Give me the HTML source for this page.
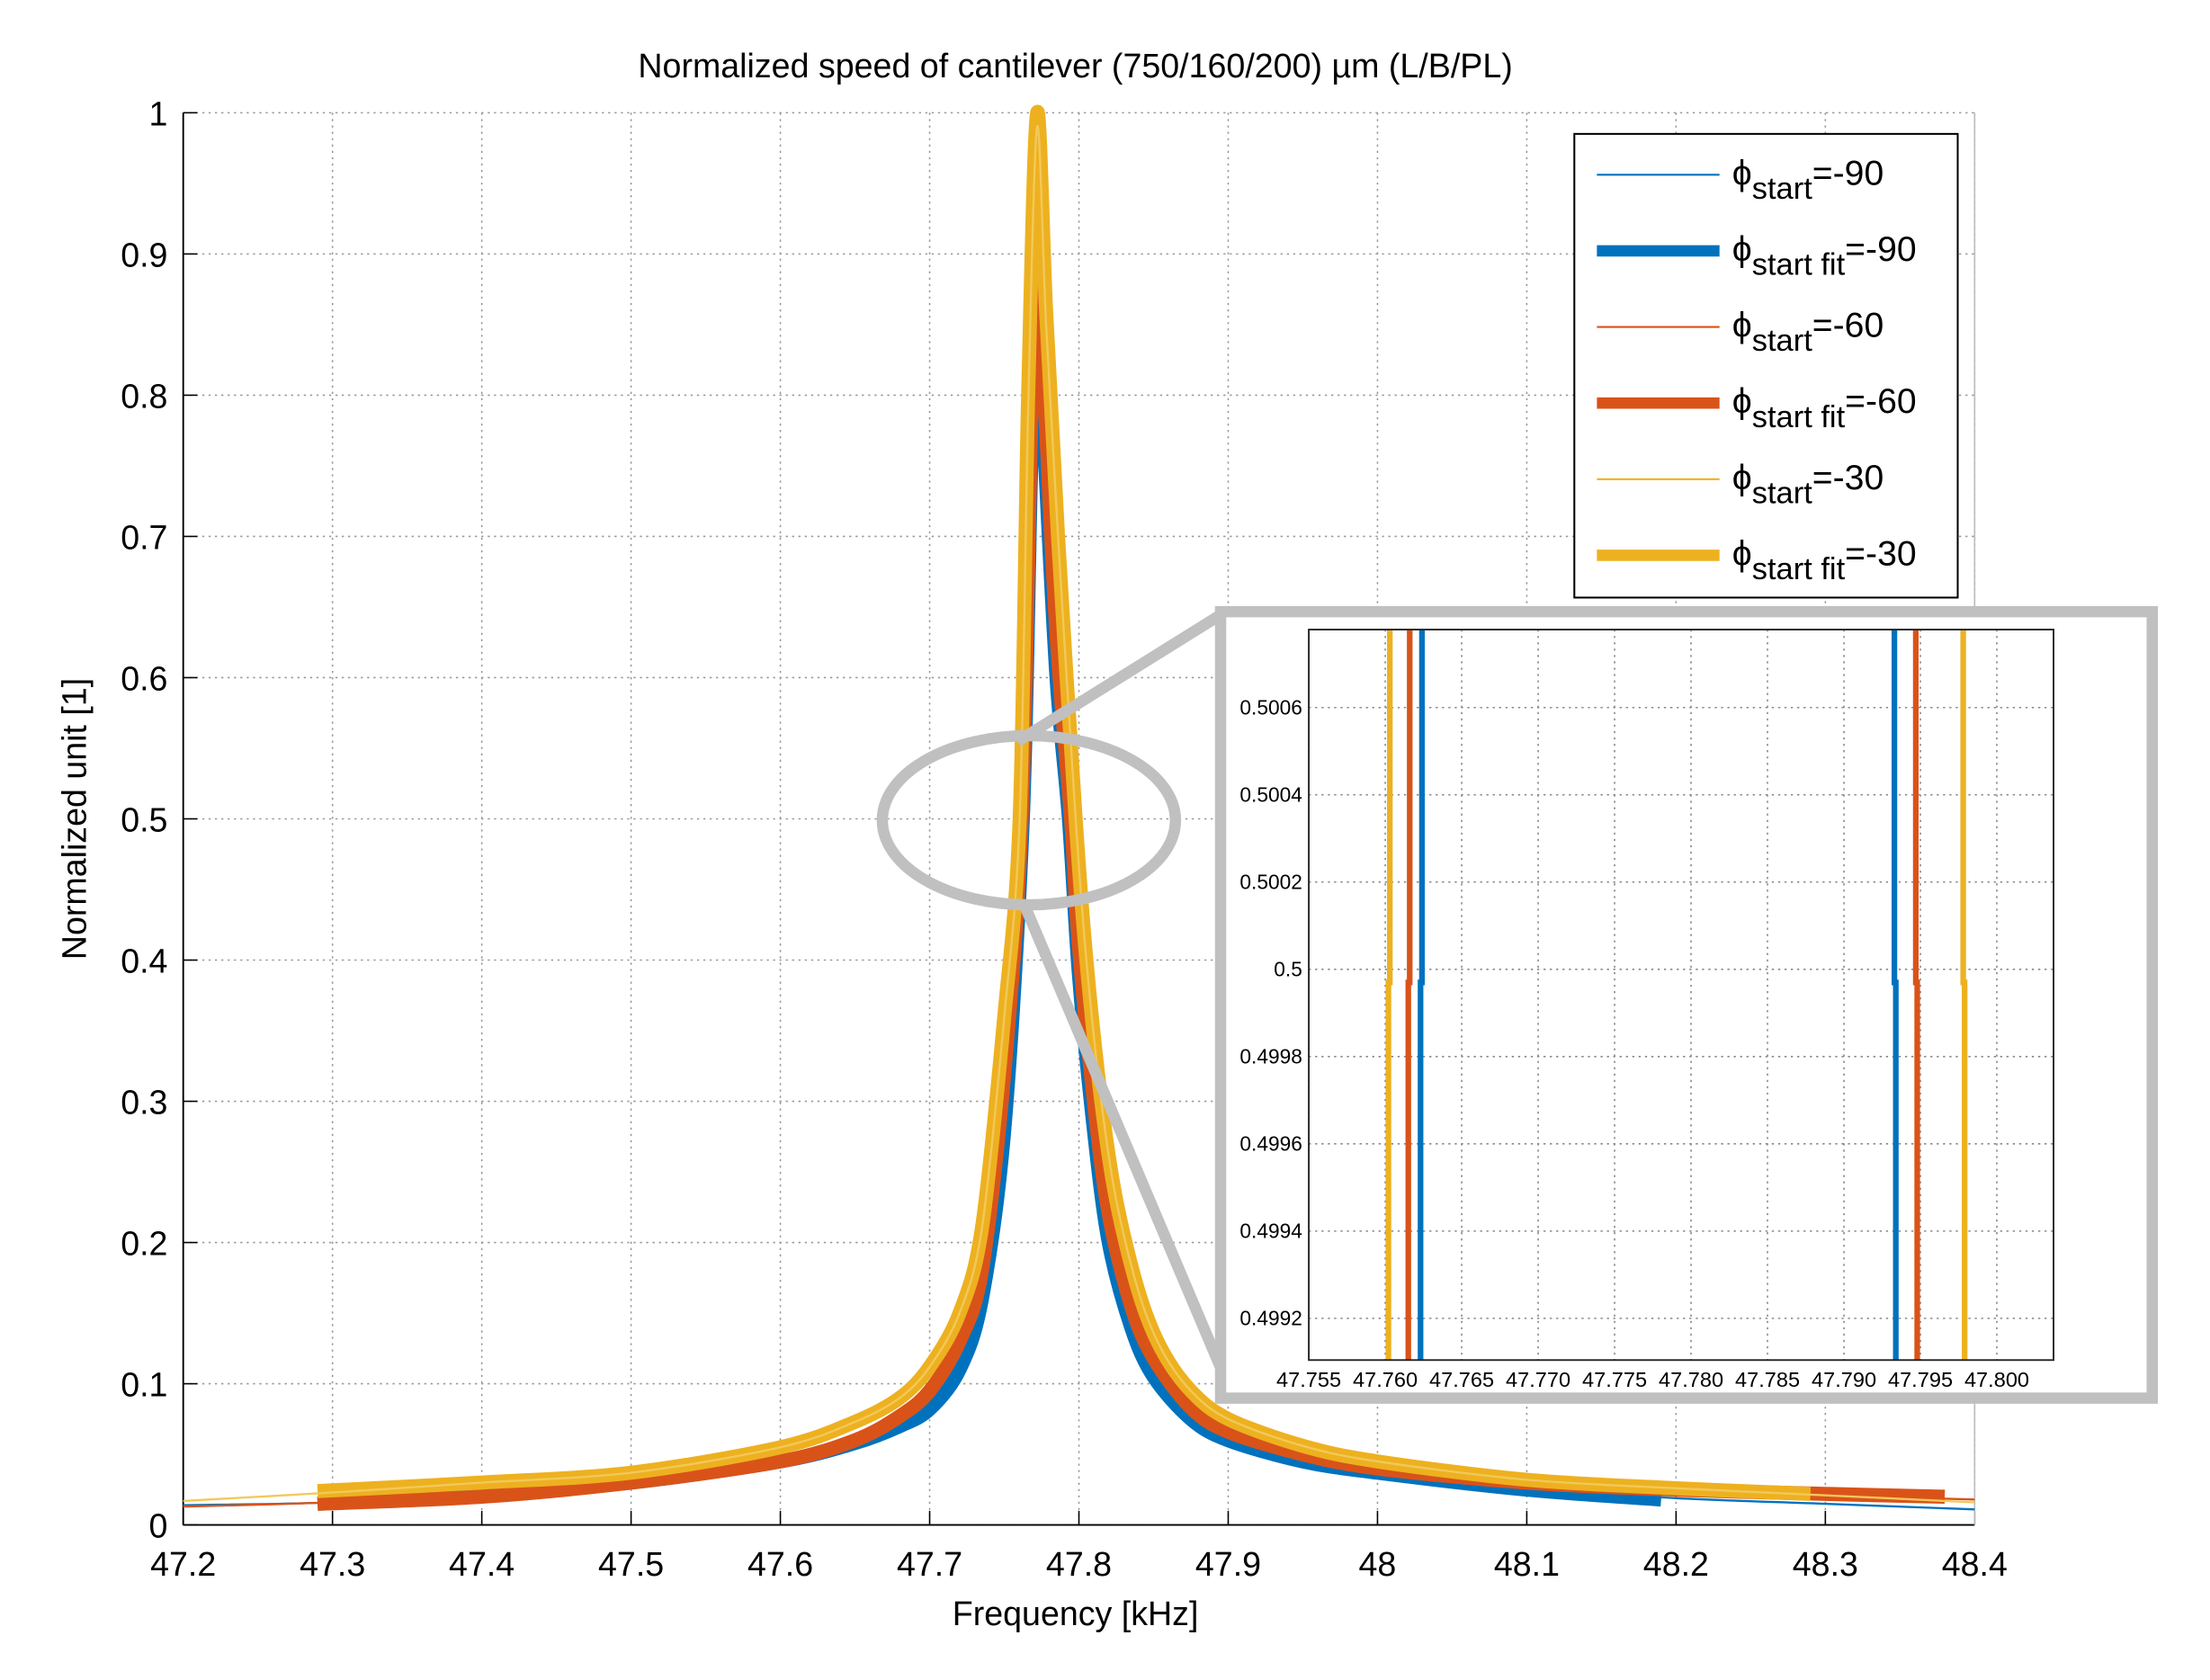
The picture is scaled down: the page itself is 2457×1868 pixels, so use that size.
<!DOCTYPE html>
<html><head><meta charset="utf-8"><style>
html,body{margin:0;padding:0;background:#fff}
svg{display:block}
text{font-family:"Liberation Sans",Arial,sans-serif;fill:#000}
</style></head><body>
<svg id="chart" width="2457" height="1868" viewBox="0 0 1568 1192" preserveAspectRatio="none" xmlns="http://www.w3.org/2000/svg">
<g id="main"></g>
<g id="inset"></g>
</svg>
<script>
// ---- main chart data ----
const xTicks = [47.2,47.3,47.4,47.5,47.6,47.7,47.8,47.9,48.0,48.1,48.2,48.3,48.4];
const xTickLabels = ["47.2","47.3","47.4","47.5","47.6","47.7","47.8","47.9","48","48.1","48.2","48.3","48.4"];
const yTicks = [0,0.1,0.2,0.3,0.4,0.5,0.6,0.7,0.8,0.9,1];
const yTickLabels = ["0","0.1","0.2","0.3","0.4","0.5","0.6","0.7","0.8","0.9","1"];

const blueFitF = [47.29,47.4,47.5,47.6,47.65,47.68,47.7,47.72,47.735,47.75,47.7624,47.768,47.772,47.777,47.785,47.7933,47.8,47.81,47.82,47.835,47.85,47.875,47.9,47.95,48.0,48.1,48.19];
const blueFitV = [0.015,0.021,0.03,0.045,0.058,0.07,0.082,0.11,0.16,0.28,0.5,0.75,0.87,0.76,0.6,0.5,0.39,0.28,0.2,0.14,0.105,0.075,0.06,0.045,0.037,0.025,0.018];
const redFitF = [47.29,47.4,47.5,47.6,47.65,47.68,47.7,47.72,47.735,47.75,47.7616,47.768,47.772,47.777,47.785,47.7947,47.8,47.81,47.82,47.835,47.85,47.875,47.9,47.95,48.0,48.1,48.2,48.3,48.38];
const redFitV = [0.015,0.02,0.03,0.045,0.06,0.077,0.095,0.13,0.18,0.32,0.5,0.78,0.92,0.8,0.63,0.5,0.41,0.3,0.22,0.155,0.118,0.083,0.066,0.05,0.04,0.03,0.025,0.022,0.02];
const yelFitF = [47.29,47.4,47.5,47.6,47.65,47.68,47.7,47.72,47.735,47.75,47.7603,47.766,47.772,47.778,47.786,47.7978,47.805,47.815,47.825,47.84,47.855,47.875,47.9,47.95,48.0,48.1,48.2,48.29];
const yelFitV = [0.024,0.03,0.037,0.055,0.073,0.09,0.112,0.15,0.21,0.36,0.5,0.8,1.0,0.86,0.7,0.5,0.4,0.3,0.23,0.165,0.125,0.095,0.075,0.056,0.045,0.032,0.026,0.022];

const blueDatF = [47.2,47.3,47.4,47.5,47.6,47.65,47.68,47.7,47.72,47.735,47.75,47.7624,47.768,47.772,47.777,47.785,47.7933,47.8,47.81,47.82,47.835,47.85,47.875,47.9,47.95,48.0,48.1,48.2,48.3,48.4];
const blueDatV = [0.014,0.016,0.022,0.031,0.047,0.06,0.072,0.085,0.113,0.165,0.29,0.5,0.74,0.86,0.75,0.6,0.5,0.39,0.285,0.205,0.145,0.108,0.077,0.062,0.047,0.038,0.026,0.019,0.015,0.011];
const redDatF = [47.2,47.3,47.4,47.5,47.6,47.65,47.68,47.7,47.72,47.735,47.75,47.7616,47.768,47.772,47.777,47.785,47.7947,47.8,47.81,47.82,47.835,47.85,47.875,47.9,47.95,48.0,48.1,48.2,48.3,48.4];
const redDatV = [0.013,0.016,0.021,0.031,0.046,0.062,0.078,0.097,0.132,0.185,0.33,0.5,0.77,0.91,0.79,0.63,0.5,0.41,0.3,0.22,0.157,0.12,0.085,0.067,0.05,0.04,0.03,0.025,0.021,0.018];
const yelDatF = [47.2,47.3,47.4,47.5,47.6,47.65,47.68,47.7,47.72,47.735,47.75,47.7603,47.766,47.772,47.778,47.786,47.7978,47.805,47.815,47.825,47.84,47.855,47.875,47.9,47.95,48.0,48.1,48.2,48.3,48.4];
const yelDatV = [0.017,0.023,0.03,0.037,0.055,0.073,0.09,0.112,0.15,0.21,0.36,0.5,0.79,0.99,0.85,0.7,0.5,0.4,0.3,0.23,0.165,0.125,0.095,0.075,0.056,0.045,0.032,0.026,0.021,0.016];

// ---- inset data ----
const insetXTicks = [47.755,47.760,47.765,47.770,47.775,47.780,47.785,47.790,47.795,47.800];
const insetXLabels = ["47.755","47.760","47.765","47.770","47.775","47.780","47.785","47.790","47.795","47.800"];
const insetYTicks = [0.4992,0.4994,0.4996,0.4998,0.5,0.5002,0.5004,0.5006];
const insetYLabels = ["0.4992","0.4994","0.4996","0.4998","0.5","0.5002","0.5004","0.5006"];
const insetCrossLeft = [47.7624,47.7616,47.7603];   // blue, red, yellow
const insetCrossRight = [47.7933,47.7947,47.7978];

const NS="http://www.w3.org/2000/svg";
const colors=["#0072BD","#D95319","#EDB120"];
function mk(tag,attrs,parent){const e=document.createElementNS(NS,tag);for(const k in attrs)e.setAttribute(k,attrs[k]);parent.appendChild(e);return e;}

const X0=130,X1=1401,Y0=1082,Y1=80;
const sx=v=>X0+(v-47.2)/(48.4-47.2)*(X1-X0);
const sy=v=>Y0-v*(Y0-Y1);
const main=document.getElementById('main');

xTicks.forEach((t,i)=>{
  const l=mk('line',{x1:sx(t),x2:sx(t),y1:Y1,y2:Y0,stroke:'#999','stroke-width':1,'stroke-dasharray':'1.5,3'},main);
  
  
  mk('line',{x1:sx(t),x2:sx(t),y1:Y0,y2:Y0-10,stroke:'#000','stroke-width':1},main);
  const tx=mk('text',{x:sx(t),y:1118,'font-size':24,'text-anchor':'middle'},main);
  tx.textContent=xTickLabels[i];
  
  
});
yTicks.forEach((t,i)=>{
  const l=mk('line',{x1:X0,x2:X1,y1:sy(t),y2:sy(t),stroke:'#999','stroke-width':1,'stroke-dasharray':'1.5,3'},main);
  
  
  mk('line',{x1:X0,x2:X0+10,y1:sy(t),y2:sy(t),stroke:'#000','stroke-width':1},main);
  const tx=mk('text',{x:119,y:sy(t)+9,'font-size':24,'text-anchor':'end'},main);
  tx.textContent=yTickLabels[i];
  
  
});
mk('line',{x1:X0,x2:X0,y1:Y1,y2:Y0,stroke:'#000','stroke-width':1.2},main);
mk('line',{x1:X0,x2:X1,y1:Y0,y2:Y0,stroke:'#000','stroke-width':1.2},main);
mk('line',{x1:X1,x2:X1,y1:Y1,y2:Y0,stroke:'#bbb','stroke-width':1},main);

function smoothPath(P){
  let d='M'+P[0][0]+','+P[0][1];
  for(let i=0;i<P.length-1;i++){
    const p0=P[i-1]||P[i],p1=P[i],p2=P[i+1],p3=P[i+2]||P[i+1];
    const t=0.16;
    const c1x=p1[0]+(p2[0]-p0[0])*t,c1y=p1[1]+(p2[1]-p0[1])*t;
    const c2x=p2[0]-(p3[0]-p1[0])*t,c2y=p2[1]-(p3[1]-p1[1])*t;
    d+=` C${c1x},${c1y} ${c2x},${c2y} ${p2[0]},${p2[1]}`;
  }
  return d;
}
function series(F,V,color,w,name){
  const P=F.map((f,i)=>[sx(f),sy(V[i])]);
  const p=mk('path',{d:smoothPath(P),fill:'none',stroke:color,'stroke-width':w,'stroke-linejoin':'round'},main);
  
  
}
series(blueFitF,blueFitV,colors[0],10,'series-fit-phi-90');
series(blueDatF,blueDatV,colors[0],1.5,'series-phi-90');
series(redFitF,redFitV,colors[1],10,'series-fit-phi-60');
series(redDatF,redDatV,colors[1],1.5,'series-phi-60');
series(yelFitF,yelFitV,colors[2],10,'series-fit-phi-30');
series(yelDatF,yelDatV,'#F3C85A',1.5,'series-phi-30');

let t=mk('text',{x:763,y:55,'font-size':24,'text-anchor':'middle'},main);
t.textContent='Normalized speed of cantilever (750/160/200) µm (L/B/PL)';

t=mk('text',{x:763,y:1153,'font-size':24,'text-anchor':'middle'},main);
t.textContent='Frequency [kHz]';

t=mk('text',{x:0,y:0,'font-size':24,'text-anchor':'middle',transform:'translate(61,581) rotate(-90)'},main);
t.textContent='Normalized unit [1]';


const lg=mk('g',{},main);

mk('rect',{x:1117,y:95,width:272,height:329,fill:'#fff',stroke:'#000','stroke-width':1.3},lg);
const legLabels=[['start','-90'],['start fit','-90'],['start','-60'],['start fit','-60'],['start','-30'],['start fit','-30']];
legLabels.forEach((lab,i)=>{
  const y=124+i*54;const fit=i%2===1;
  mk('line',{x1:1133,x2:1220,y1:y,y2:y,stroke:colors[Math.floor(i/2)],'stroke-width':fit?8:1.3},lg);
  const tx=mk('text',{x:1229,y:y+7,'font-size':25},lg);
  
  const a=document.createElementNS(NS,'tspan');a.textContent='ϕ';tx.appendChild(a);
  const b=document.createElementNS(NS,'tspan');b.setAttribute('font-size','22');b.setAttribute('dy','10');b.textContent=lab[0];tx.appendChild(b);
  const c=document.createElementNS(NS,'tspan');c.setAttribute('dy','-10');c.textContent='='+lab[1];tx.appendChild(c);
});

const ins=document.getElementById('inset');
let e=mk('ellipse',{cx:730,cy:582,rx:104,ry:60,fill:'none',stroke:'#c0c0c0','stroke-width':8},ins);

mk('line',{x1:722,y1:526,x2:868,y2:435,stroke:'#c0c0c0','stroke-width':8},ins);
mk('line',{x1:726,y1:640,x2:868,y2:975,stroke:'#c0c0c0','stroke-width':8},ins);
let r=mk('rect',{x:866,y:434,width:661,height:558,fill:'#fff',stroke:'#c0c0c0','stroke-width':8},ins);


const IX0=928.6,IX1=1457,IY0=965,IY1=446.7;
const ixs=v=>IX0+(v-47.755)/0.005*54.24;
const iys=v=>935.4-(v-0.4992)/0.0002*61.91;
insetXTicks.forEach((tk,i)=>{
  mk('line',{x1:ixs(tk),x2:ixs(tk),y1:IY1,y2:IY0,stroke:'#888','stroke-width':1,'stroke-dasharray':'1.5,3'},ins);
  const tx=mk('text',{x:ixs(tk),y:984,'font-size':14.5,'text-anchor':'middle','textLength':46,'lengthAdjust':'spacingAndGlyphs'},ins);
  tx.textContent=insetXLabels[i];
  
});
insetYTicks.forEach((tk,i)=>{
  mk('line',{x1:IX0,x2:IX1,y1:iys(tk),y2:iys(tk),stroke:'#888','stroke-width':1,'stroke-dasharray':'1.5,3'},ins);
  const tx=mk('text',{x:924,y:iys(tk)+5,'font-size':14.5,'text-anchor':'end'},ins);
  tx.textContent=insetYLabels[i];
  
});
[0,1,2].forEach(k=>{
  [insetCrossLeft[k],insetCrossRight[k]].forEach(f=>{
    const dx=(f<47.78?-1:1);
    const l=mk('polyline',{points:`${ixs(f)},${IY1} ${ixs(f)},${iys(0.49997)} ${ixs(f)+dx},${iys(0.49997)} ${ixs(f)+dx},${IY0}`,fill:'none',stroke:colors[k],'stroke-width':4},ins);
    
  });
});
mk('rect',{x:IX0,y:IY1,width:IX1-IX0,height:IY0-IY1,fill:'none',stroke:'#222','stroke-width':1.2},ins);
</script>
</body></html>
